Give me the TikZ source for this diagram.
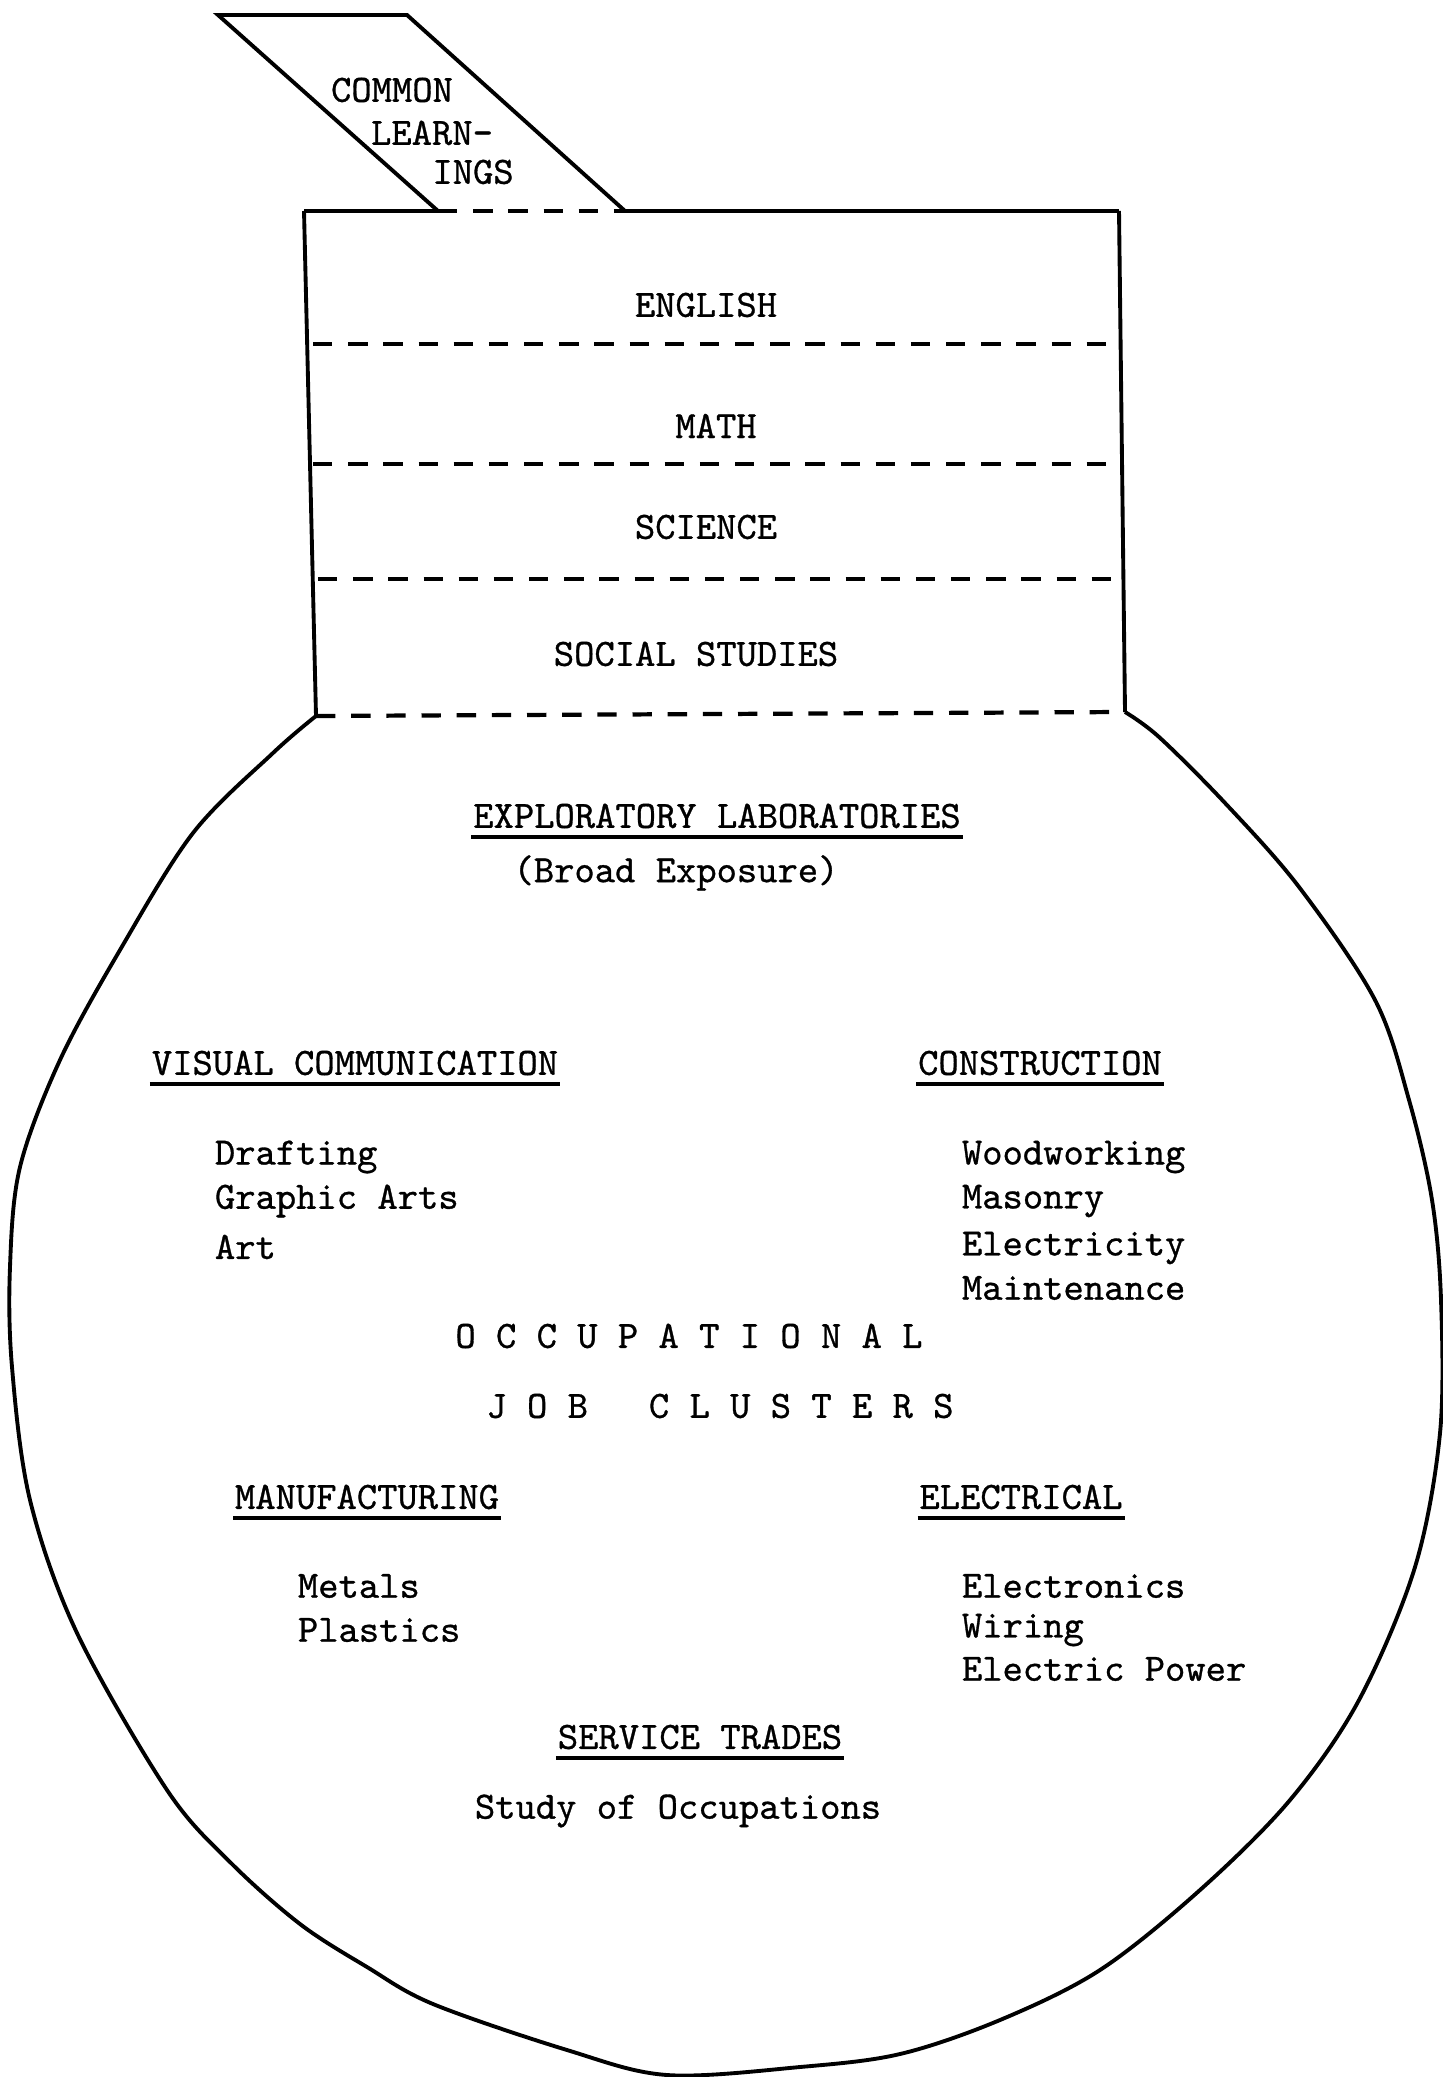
\documentclass[tikz,border=0pt]{standalone}
\usepackage{fontspec}
\newfontfamily\typewriter{Latin Modern Mono}[BoldFont={Latin Modern Mono}, BoldFeatures={FakeBold=0.8}]
\begin{document}
\begin{tikzpicture}[x=0.01cm, y=-0.01cm, line width=1.1pt,
  typed/.style={font=\typewriter\bfseries\fontsize{11}{13}\selectfont, inner xsep=0pt, inner ysep=2pt},
  split/.style={dash pattern=on 5.5pt off 4.5pt, line width=1.2pt},
  uline/.style={line width=1.1pt}]
\useasboundingbox (0,0) rectangle (1442,2077);
\coordinate (T1) at (218,15);
\coordinate (T2) at (407,15);
\coordinate (T3) at (625,211);
\coordinate (T4) at (438,211);
\coordinate (B1) at (304,211);
\coordinate (B2) at (1119,211);
\coordinate (B3) at (1125,712);
\coordinate (B4) at (316,716);
\draw (T4) -- (T1) -- (T2) -- (T3);
\draw (B1) -- (T4);
\draw[split] (T4) -- (T3);
\draw (T3) -- (B2);
\draw (B1) -- (B4);
\draw (B2) -- (B3);
\draw[split] (313,344) -- (1116,344);
\draw[split] (313,464) -- (1116,464);
\draw[split] (318,579) -- (1116,579);
\draw[split] (B4) -- (B3);
\draw plot[smooth, tension=0.55] coordinates {(B4) (273,753) (193,833) (120,950) (60,1060) (20,1167) (10,1267) (12,1367) (30,1500) (77,1633) (167,1790) (230,1862) (300,1924) (367,1967) (433,2004) (567,2050) (667,2075) (800,2067) (900,2054) (1000,2020) (1100,1970) (1200,1890) (1290,1800) (1359,1700) (1415,1567) (1440,1433) (1441,1300) (1432,1200) (1409,1100) (1375,1000) (1299,887) (1225,803) (1159,737) (B3)};
\node[typed] (c1) at (392,90) {COMMON};
\node[typed] (c2) at (432,133) {LEARN-};
\node[typed] (c3) at (473,172) {INGS};
\node[typed] (eng) at (706,305) {ENGLISH};
\node[typed] (math) at (716,426) {MATH};
\node[typed] (sci) at (706,527) {SCIENCE};
\node[typed] (soc) at (696,654) {SOCIAL STUDIES};
\node[typed] (ex) at (717,816) {EXPLORATORY LABORATORIES};
\node[typed] (broad) at (676,873) {(Broad Exposure)};
\node[typed] (vc) at (355,1063) {VISUAL COMMUNICATION};
\node[typed] (con) at (1040,1063) {CONSTRUCTION};
\node[typed, anchor=west] (d1) at (213,1157) {Drafting};
\node[typed, anchor=west] (d2) at (213,1201) {Graphic Arts};
\node[typed, anchor=west] (d3) at (213,1247) {Art};
\node[typed, anchor=west] (w1) at (960,1157) {Woodworking};
\node[typed, anchor=west] (w2) at (960,1201) {Masonry};
\node[typed, anchor=west] (w3) at (960,1248) {Electricity};
\node[typed, anchor=west] (w4) at (960,1288) {Maintenance};
\node[typed] (occ) at (689,1336) {O C C U P A T I O N A L};
\node[typed] (job) at (720,1406) {J O B~~~C L U S T E R S};
\node[typed] (man) at (367,1497) {MANUFACTURING};
\node[typed] (ele) at (1021,1497) {ELECTRICAL};
\node[typed, anchor=west] (m1) at (296,1586) {Metals};
\node[typed, anchor=west] (m2) at (296,1630) {Plastics};
\node[typed, anchor=west] (e1) at (960,1586) {Electronics};
\node[typed, anchor=west] (e2) at (960,1630) {Wiring};
\node[typed, anchor=west] (e3) at (960,1669) {Electric Power};
\node[typed] (ser) at (700,1737) {SERVICE TRADES};
\node[typed] (stu) at (678,1811) {Study of Occupations};
\draw[uline] (ex.south west) -- (ex.south east);
\draw[uline] (vc.south west) -- (vc.south east);
\draw[uline] (con.south west) -- (con.south east);
\draw[uline] (man.south west) -- (man.south east);
\draw[uline] (ele.south west) -- (ele.south east);
\draw[uline] (ser.south west) -- (ser.south east);
\end{tikzpicture}
\end{document}
